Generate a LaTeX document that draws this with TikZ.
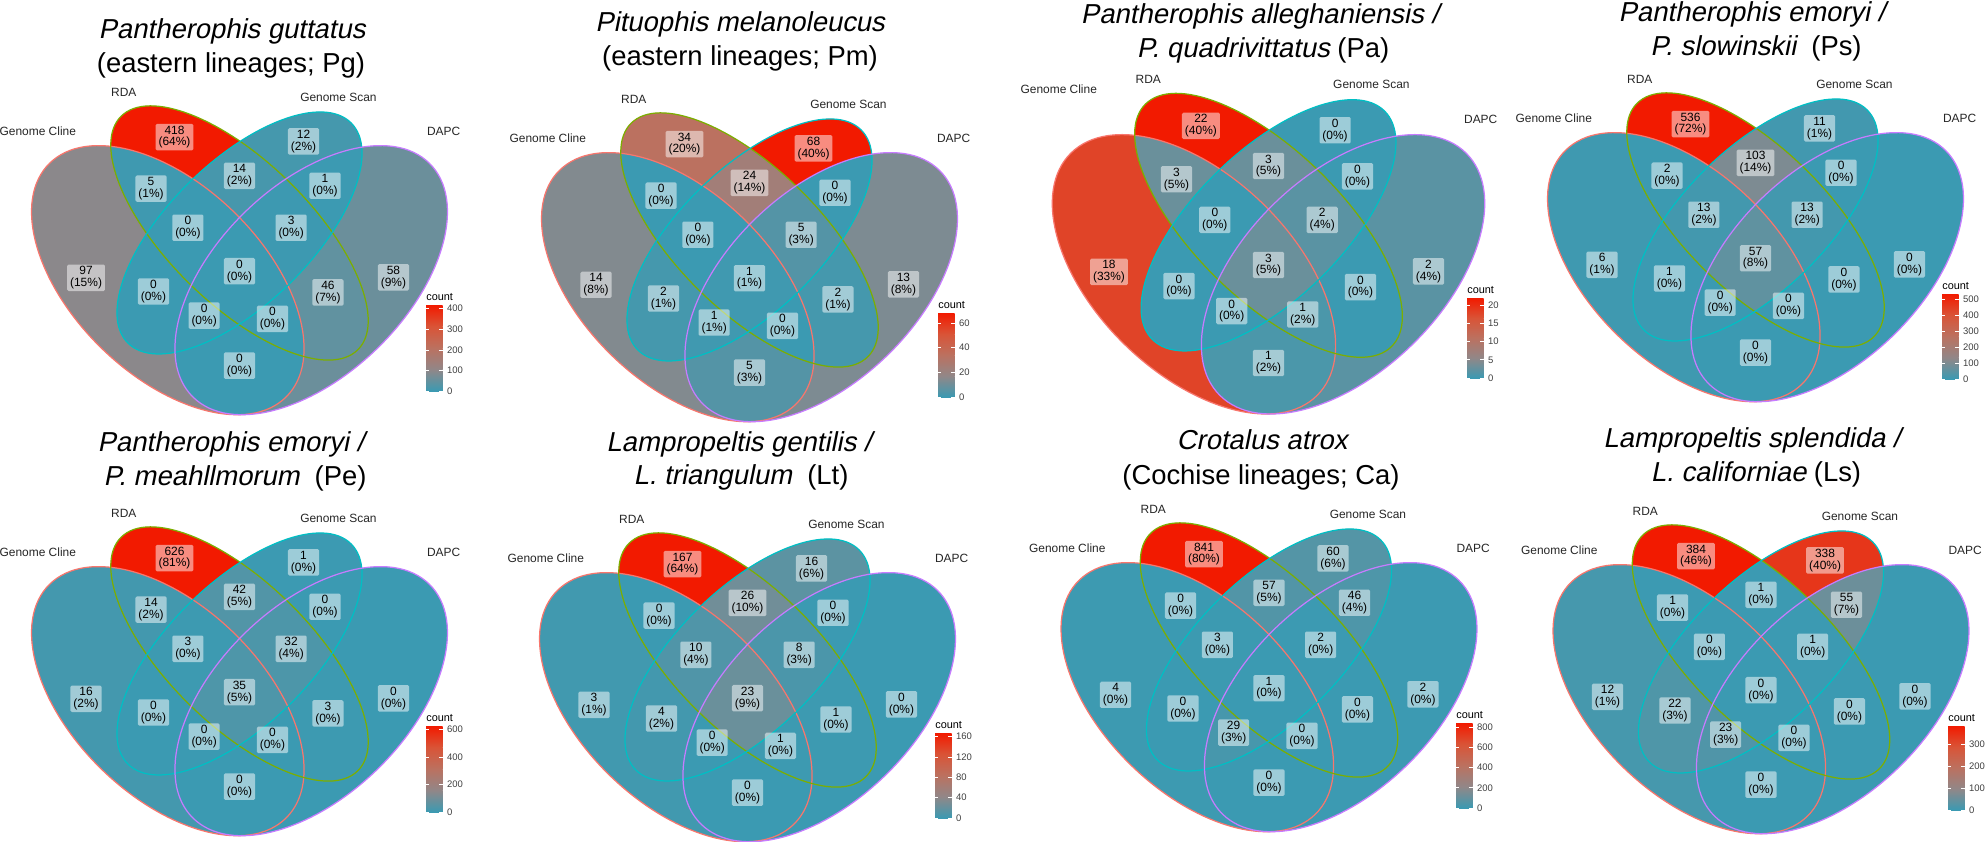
\documentclass[tikz,border=0pt]{standalone}
\usepackage{fontspec}
\setmainfont{Liberation Sans}
\newfontfamily\oblq[FakeSlant=0.2]{Liberation Sans}
\newcommand\spname[1]{{\oblq #1}}
% set outlines (default ggplot hues)
\definecolor{gccol}{HTML}{F8766D}
\definecolor{rdacol}{HTML}{7CAE00}
\definecolor{gscol}{HTML}{00BFC4}
\definecolor{dapccol}{HTML}{C77CFF}
% count scale, low -> high
\definecolor{cs0}{RGB}{59,154,178}
\definecolor{cs1}{RGB}{145,135,136}
\definecolor{cs2}{RGB}{187,113,96}
\definecolor{cs3}{RGB}{217,84,55}
\definecolor{cs4}{RGB}{242,26,0}

% the four ellipses, in percent of the plot around its centre
\def\elA{(-15,-3) ellipse [x radius=35, y radius=20, rotate=135]}
\def\elB{(0,7) ellipse [x radius=35, y radius=15, rotate=135]}
\def\elC{(0,7) ellipse [x radius=33, y radius=15, rotate=45]}
\def\elD{(15,-3) ellipse [x radius=35, y radius=20, rotate=45]}

% regions: in A/B/C/D, label position
\def\regions{1/0/0/0/-32.1/-2.5, 0/1/0/0/-13.6/27.3, 0/0/1/0/13.4/26.4,
  0/0/0/1/32.2/-2.4, 1/1/0/0/-18.5/16.4, 1/0/1/0/-18.0/-5.4,
  1/0/0/1/0/-21.1, 0/1/1/0/0/19.1, 0/1/0/1/18.5/-5.6, 0/0/1/1/17.9/17.0,
  1/1/1/0/-10.8/8.1, 1/1/0/1/6.9/-11.2, 1/0/1/1/-7.4/-10.5,
  0/1/1/1/10.8/8.1, 1/1/1/1/0/-1.1}

% colour rc for count #1 of maximum #2
\newcommand\regcol[2]{%
  \pgfmathsetmacro\vt{4*#1/#2}%
  \pgfmathtruncatemacro\vk{min(3,floor(\vt))}%
  \pgfmathtruncatemacro\vn{\vk+1}%
  \pgfmathsetmacro\vf{100*(\vt-\vk)}%
  \colorlet{rc}{cs\vn!\vf!cs\vk}}

% #1,#2 centre (px)  #3,#4 scale  #5 y of Genome Cline  #6 max  #7 counts  #8 percents  #9 id
\newcommand\vennpanel[9]{%
  \begin{scope}[shift={(#1,-#2)}, xscale=#3, yscale=#4]
    \def\cnts{{#7}}\def\pcts{{#8}}%
    \foreach \fa/\fb/\fc/\fd/\lx/\ly [count=\k from 0] in \regions {
      \pgfmathtruncatemacro\nn{\cnts[\k]}
      \regcol{\nn}{#6}
      \begin{scope}
        \ifnum\fa=1 \clip \elA; \fi
        \ifnum\fb=1 \clip \elB; \fi
        \ifnum\fc=1 \clip \elC; \fi
        \ifnum\fd=1 \clip \elD; \fi
        \fill[fill=rc] (-60,-60) rectangle (60,60);
      \end{scope}
    }
    \draw[edge, gccol] \elA;
    \draw[edge, rdacol] \elB;
    \draw[edge, gscol] \elC;
    \draw[edge, dapccol] \elD;
    \foreach \fa/\fb/\fc/\fd/\lx/\ly [count=\k from 0] in \regions {
      \pgfmathtruncatemacro\nn{\cnts[\k]}
      \pgfmathtruncatemacro\pp{\pcts[\k]}
      \node[cntbox] (r#9\k) at (\lx,\ly) {\nn\\(\pp\%)};
    }
    \node[setname] (gc#9) at (-42.2,#5) {Genome Cline};
    \node[setname] (rda#9) at (-24.2,36.7) {RDA};
    \node[setname] (gs#9) at (20.7,35.7) {Genome Scan};
    \node[setname] (dapc#9) at (42.7,28.6) {DAPC};
  \end{scope}}

% #1 left (px)  #2 bottom (px)  #3 height  #4 max  #5 ticks  #6 id
\newcommand\countbar[6]{%
  \begin{scope}[shift={(#1,-#2)}]
    \foreach \k [evaluate=\k as \kn using int(\k+1)] in {0,...,3}
      \shade[bottom color=cs\k, top color=cs\kn]
        (0,{#3*\k/4}) rectangle (16.5,{#3*(\k+1)/4});
    \node[legtitle] (cnt#6) at (0,#3+5) {count};
    \foreach \v in {#5} {
      \draw[white, line width=0.4pt] (0,{#3/#4*\v}) -- ++(3.3,0)
        (16.5,{#3/#4*\v}) -- ++(-3.3,0);
      \node[legtick] (tk#6\v) at (20,{#3/#4*\v}) {\v};
    }
  \end{scope}}

\begin{document}
\begin{tikzpicture}[x=0.02cm, y=0.02cm,
  edge/.style={line width=0.7pt},
  cntbox/.style={fill=white, fill opacity=0.5, text opacity=1, align=center,
                 inner xsep=1.7pt, inner ysep=1.1pt, rounded corners=0.8pt,
                 font=\fontsize{6.8}{6.7}\selectfont},
  setname/.style={text=black!85, font=\fontsize{6.8}{8}\selectfont},
  ttl/.style={anchor=base, font=\fontsize{15.6}{19}\selectfont},
  legtitle/.style={anchor=base west, inner xsep=0pt, font=\fontsize{6.2}{7}\selectfont},
  legtick/.style={anchor=west, inner xsep=0.4pt, text=black!75,
                  font=\fontsize{5.4}{6}\selectfont}]
  \fill[white] (0,0) rectangle (1985,-842);
  \useasboundingbox (0,0) rectangle (1985,-842);

  % top row
  \vennpanel{239.5}{266}{4.78}{4.72}{28.6}{418}
    {97,418,12,58,5,0,0,14,46,1,0,0,0,3,0}{15,64,2,9,1,0,0,2,7,0,0,0,0,0,0}{a}
  \countbar{426}{391}{86}{418}{0,100,200,300,400}{a}
  \node[ttl] (ta1) at (232,-38) {\spname{Pantherophis guttatus}};
  \node[ttl] (ta2) at (231,-72) {(eastern lineages; Pg)};

  \vennpanel{749.5}{273}{4.78}{4.72}{28.6}{68}
    {14,34,68,13,0,2,5,24,2,0,0,0,1,5,1}{8,20,40,8,0,1,3,14,1,0,0,0,1,3,1}{b}
  \countbar{938}{397}{84}{68}{0,20,40,60}{b}
  \node[ttl] (tb1) at (740,-31) {\spname{Pituophis melanoleucus}};
  \node[ttl] (tb2) at (740,-65) {(eastern lineages; Pm)};

  \vennpanel{1268.5}{259.6}{4.97}{4.90}{34.8}{22}
    {18,22,0,2,3,0,1,3,0,0,0,1,0,2,3}{33,40,0,4,5,0,2,5,0,0,0,2,0,4,5}{c}
  \countbar{1467}{378}{80}{22}{0,5,10,15,20}{c}
  \node[ttl] (tc1) at (1260,-23) {\spname{Pantherophis alleghaniensis /}};
  \node[ttl] (tc2) at (1263,-57) {\spname{P. quadrivittatus} (Pa)};

  \vennpanel{1755.5}{253}{4.78}{4.72}{28.6}{536}
    {6,536,11,0,2,1,0,103,0,0,13,0,0,13,57}{1,72,1,0,0,0,0,14,0,0,2,0,0,2,8}{d}
  \countbar{1942}{379}{85}{536}{0,100,200,300,400,500}{d}
  \node[ttl] (td1) at (1752,-21) {\spname{Pantherophis emoryi /}};
  \node[ttl] (td2) at (1756,-55) {\spname{P. slowinskii}\ \ (Ps)};

  % bottom row
  \vennpanel{239.5}{687}{4.78}{4.72}{28.6}{626}
    {16,626,1,0,14,0,0,42,3,0,3,0,0,32,35}{2,81,0,0,2,0,0,5,0,0,0,0,0,4,5}{e}
  \countbar{426}{812}{86}{626}{0,200,400,600}{e}
  \node[ttl] (te1) at (231,-451) {\spname{Pantherophis emoryi /}};
  \node[ttl] (te2) at (235,-485) {\spname{P. meahllmorum}\ \ (Pe)};

  \vennpanel{747.5}{693}{4.78}{4.72}{28.6}{167}
    {3,167,16,0,0,4,0,26,1,0,10,1,0,8,23}{1,64,6,0,0,2,0,10,0,0,4,0,0,3,9}{f}
  \countbar{935}{818}{85}{167}{0,40,80,120,160}{f}
  \node[ttl] (tf1) at (739,-451) {\spname{Lampropeltis gentilis /}};
  \node[ttl] (tf2) at (741,-484) {\spname{L. triangulum}\ \ (Lt)};

  \vennpanel{1269}{683}{4.78}{4.72}{28.6}{841}
    {4,841,60,2,0,0,0,57,0,46,3,0,29,2,1}{0,80,6,0,0,0,0,5,0,4,0,0,3,0,0}{g}
  \countbar{1456}{808}{85}{841}{0,200,400,600,800}{g}
  \node[ttl] (tg1) at (1262,-449) {\spname{Crotalus atrox}};
  \node[ttl] (tg2) at (1261,-484) {(Cochise lineages; Ca)};

  \vennpanel{1761}{685}{4.78}{4.72}{28.6}{384}
    {12,384,338,0,1,22,0,1,0,55,0,0,23,1,0}{1,46,40,0,0,3,0,0,0,7,0,0,3,0,0}{h}
  \countbar{1948}{810}{84}{384}{0,100,200,300}{h}
  \node[ttl] (th1) at (1752,-447) {\spname{Lampropeltis splendida /}};
  \node[ttl] (th2) at (1756,-481) {\spname{L. californiae} (Ls)};
\end{tikzpicture}
\end{document}
